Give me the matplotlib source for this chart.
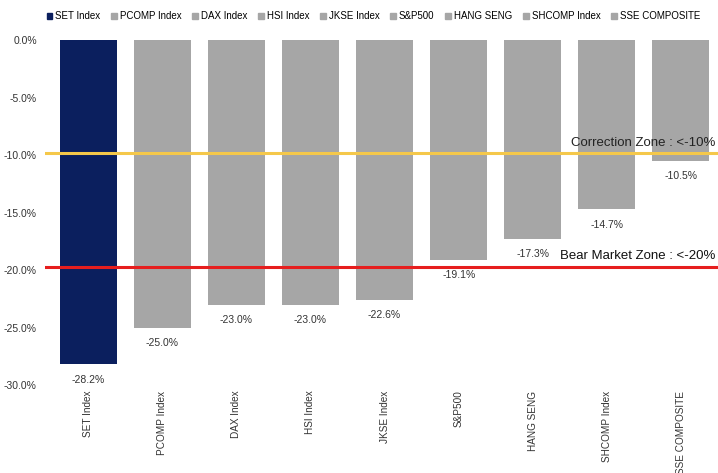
import matplotlib
matplotlib.use("Agg")
import matplotlib.pyplot as plt
from matplotlib.patches import Patch

plt.rcParams['font.family'] = ['Liberation Sans', 'DejaVu Sans']

# ข้อมูล
indices = ["SET Index", "PCOMP Index", "DAX Index", "HSI Index", "JKSE Index",
           "S&P500", "HANG SENG", "SHCOMP Index", "SSE COMPOSITE"]
returns = [-28.2, -25.0, -23.0, -23.0, -22.6, -19.1, -17.3, -14.7, -10.5]
correction_level = -9.85
bear_level = -19.7

navy = "#0b1f5e"
grey = "#a6a6a6"
colors = [navy] + [grey] * (len(indices) - 1)

fig = plt.figure(figsize=(7.18, 4.73), dpi=100)
ax = fig.add_axes([0.063, 0.186, 0.937, 0.729])

x = list(range(len(indices)))
ax.bar(x, returns, width=0.77, color=colors, zorder=2)

for xi, v in zip(x, returns):
    ax.annotate(f"{v:.1f}%", (xi, v), xytext=(0, -7.5), textcoords="offset points",
                ha="center", va="top", fontsize=7.5, color="#333333")

# เส้นโซน
ax.axhline(correction_level, color="#f5c84a", lw=2.2, zorder=3)
ax.axhline(bear_level, color="#e61e1e", lw=2.2, zorder=3)
ax.text(8.46, correction_level + 0.4, "Correction Zone : <-10%", ha="right", va="bottom",
        fontsize=9.5, color="#222222", zorder=4)
ax.text(8.46, bear_level + 0.4, "Bear Market Zone : <-20%", ha="right", va="bottom",
        fontsize=9.5, color="#111111", zorder=4)

ax.set_xlim(-0.58, 8.5)
ax.set_ylim(-30, 0)
ax.set_yticks([0, -5, -10, -15, -20, -25, -30])
ax.set_yticklabels([f"{t:.1f}%" for t in [0, -5, -10, -15, -20, -25, -30]],
                   fontsize=7.5, color="#333333")
ax.set_xticks(x)
ax.set_xticklabels(indices, rotation=90, fontsize=7.2, color="#333333")
ax.tick_params(axis="x", length=0, pad=4)
ax.tick_params(axis="y", length=0, pad=6)
for s in ax.spines.values():
    s.set_visible(False)

handles = [Patch(color=c) for c in colors]
fig.legend(handles, indices, loc="upper center", bbox_to_anchor=(0.52, 0.995), ncol=9,
           frameon=False, fontsize=7, handlelength=0.6, handleheight=0.6,
           handletextpad=0.3, columnspacing=1.1)

fig.savefig("out.png", dpi=100)
